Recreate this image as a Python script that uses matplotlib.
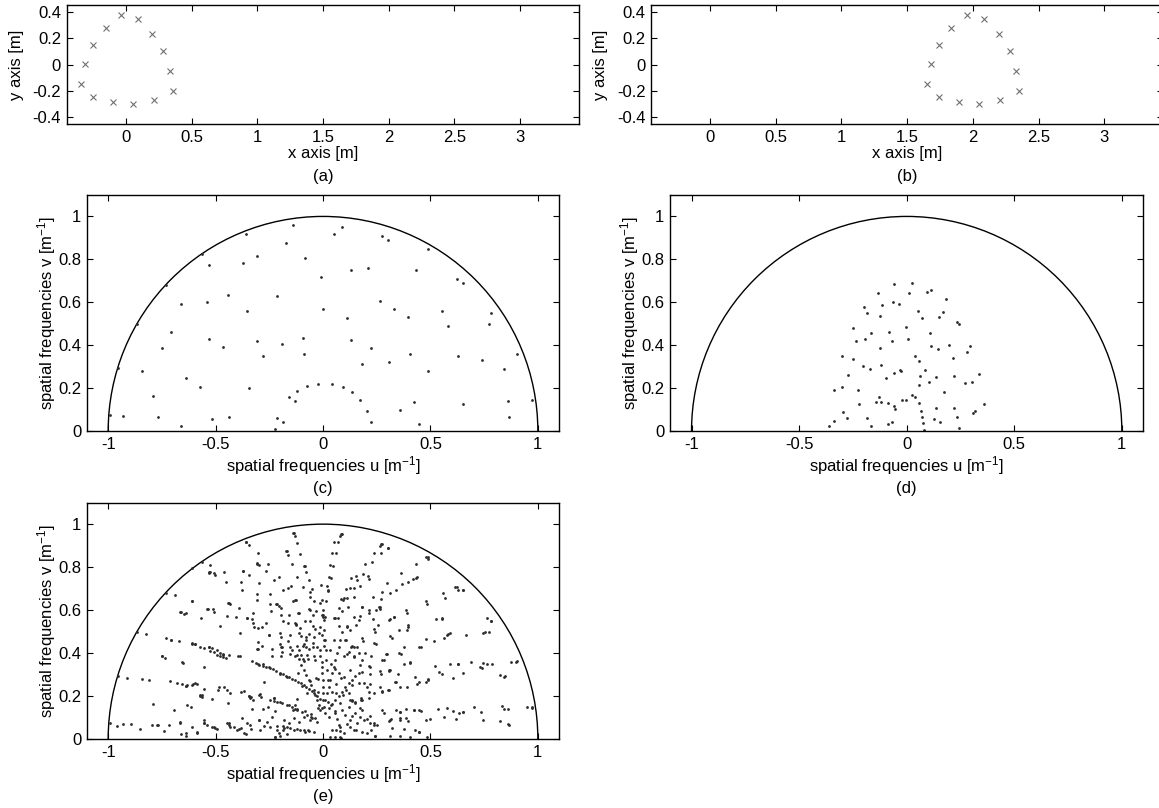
import numpy as np
import matplotlib
matplotlib.use("Agg")
import matplotlib.pyplot as plt
import matplotlib.patches as patches
from matplotlib.ticker import FormatStrFormatter

plt.rcParams['font.family'] = ['Liberation Sans', 'DejaVu Sans']
plt.rcParams['mathtext.default'] = 'regular'
plt.rcParams['font.size'] = 12

# antenna positions (panel a), metres
ant_a_x = [-0.038, 0.091, 0.203, 0.286, 0.339, 0.357, 0.213, 0.058, -0.096, -0.246, -0.342, -0.309, -0.246, -0.154]
ant_a_y = [0.375, 0.344, 0.233, 0.101, -0.046, -0.200, -0.266, -0.296, -0.286, -0.248, -0.150, 0.005, 0.147, 0.273]

# antenna positions (panel b), metres
ant_b_x = [1.956, 2.087, 2.196, 2.280, 2.331, 2.348, 2.204, 2.049, 1.895, 1.743, 1.652, 1.679, 1.743, 1.837]
ant_b_y = [0.375, 0.344, 0.233, 0.101, -0.046, -0.200, -0.266, -0.296, -0.286, -0.248, -0.150, 0.005, 0.147, 0.273]

# spatial frequency samples (u, v) for panel c
uv_c = [
    (-0.138, 0.960), (-0.357, 0.918), (-0.172, 0.876), (-0.561, 0.826), (-0.309, 0.816), (-0.085, 0.807),
    (-0.374, 0.782), (-0.529, 0.773), (-0.729, 0.680), (-0.442, 0.635), (-0.216, 0.627), (-0.662, 0.591),
    (-0.538, 0.603), (-0.352, 0.561), (-0.868, 0.499), (-0.709, 0.460), (-0.750, 0.386), (-0.530, 0.428),
    (-0.465, 0.392), (-0.305, 0.418), (-0.278, 0.348), (-0.191, 0.404), (-0.093, 0.432), (-0.090, 0.361),
    (-0.955, 0.292), (-0.842, 0.278), (-0.636, 0.246), (-0.791, 0.165), (-0.571, 0.207), (-0.346, 0.199),
    (-0.073, 0.212), (-0.022, 0.221), (-0.119, 0.188), (-0.158, 0.157), (-0.130, 0.140), (-0.992, 0.073),
    (-0.930, 0.072), (-0.769, 0.065), (-0.516, 0.056), (-0.439, 0.067), (-0.659, 0.023), (-0.216, 0.059),
    (-0.186, 0.044), (-0.223, 0.009),
    (0.088, 0.952), (0.050, 0.918), (0.274, 0.908), (0.304, 0.891), (0.491, 0.848), (0.132, 0.748),
    (0.209, 0.759), (0.434, 0.751), (-0.011, 0.717), (0.622, 0.708), (0.650, 0.692), (0.264, 0.607),
    (0.329, 0.568), (-0.002, 0.568), (0.110, 0.526), (0.395, 0.532), (0.555, 0.560), (0.780, 0.549),
    (0.771, 0.499), (0.581, 0.488), (0.130, 0.426), (0.225, 0.387), (0.180, 0.314), (0.305, 0.323),
    (0.403, 0.358), (0.626, 0.348), (0.741, 0.330), (0.901, 0.361), (0.491, 0.280), (0.843, 0.288),
    (0.040, 0.219), (0.091, 0.207), (0.135, 0.182), (0.172, 0.143), (0.205, 0.092), (0.222, 0.042),
    (0.360, 0.100), (0.425, 0.134), (0.447, 0.033), (0.651, 0.124), (0.862, 0.138), (0.864, 0.065),
    (0.975, 0.146),
]

# spatial frequency samples (u, v) for panel d
uv_d = [
    (-0.059, 0.684), (0.023, 0.690), (-0.132, 0.645), (0.012, 0.642), (0.095, 0.647), (0.113, 0.658),
    (-0.197, 0.577), (-0.186, 0.549), (-0.115, 0.588), (-0.062, 0.600), (-0.034, 0.594), (-0.124, 0.537),
    (0.053, 0.561), (0.073, 0.526), (0.152, 0.532), (-0.251, 0.482), (-0.194, 0.429), (-0.164, 0.457),
    (-0.081, 0.463), (-0.003, 0.485), (0.107, 0.459), (-0.237, 0.418), (-0.122, 0.389), (-0.066, 0.418),
    (0.005, 0.431), (0.112, 0.395), (0.144, 0.383), (-0.301, 0.351), (-0.250, 0.334), (0.039, 0.351),
    (0.057, 0.328), (-0.202, 0.302), (-0.169, 0.288), (-0.118, 0.306), (-0.274, 0.263), (-0.098, 0.247),
    (-0.060, 0.272), (-0.033, 0.284), (-0.025, 0.278), (0.085, 0.286), (0.136, 0.250), (0.059, 0.215),
    (0.105, 0.226), (-0.338, 0.193), (-0.299, 0.205), (-0.228, 0.193), (-0.130, 0.160), (-0.121, 0.137),
    (-0.085, 0.131), (-0.023, 0.143), (-0.003, 0.145), (0.025, 0.170), (0.039, 0.157), (0.056, 0.129),
    (-0.223, 0.128), (-0.057, 0.117), (-0.054, 0.101), (-0.141, 0.134), (0.135, 0.106), (-0.296, 0.089),
    (-0.276, 0.062), (-0.186, 0.062), (-0.167, 0.025), (-0.336, 0.048), (-0.360, 0.022), (-0.085, 0.031),
    (-0.070, 0.042), (0.065, 0.095), (0.073, 0.064), (0.078, 0.037), (0.082, 0.006), (0.127, 0.054),
    (0.181, 0.616), (0.169, 0.554), (0.236, 0.510), (0.242, 0.498), (0.195, 0.400), (0.214, 0.339),
    (0.293, 0.397), (0.282, 0.367), (0.219, 0.258), (0.175, 0.182), (0.336, 0.264), (0.304, 0.226),
    (0.273, 0.224), (0.219, 0.109), (0.236, 0.064), (0.242, 0.012), (0.358, 0.124), (0.316, 0.095),
    (0.307, 0.082), (0.155, 0.044), (0.062, 0.255),
]

# extra samples only seen in panel e (all positions combined)
uv_e_extra = [
    # left, upper
    (-0.136, 0.958), (-0.132, 0.946), (-0.122, 0.911), (-0.358, 0.919), (-0.343, 0.902), (-0.169, 0.873),
    (-0.161, 0.857), (-0.105, 0.862), (-0.302, 0.865), (-0.308, 0.818), (-0.298, 0.811), (-0.254, 0.815),
    (-0.144, 0.814), (-0.087, 0.806), (-0.081, 0.779), (-0.527, 0.811), (-0.527, 0.775), (-0.504, 0.762),
    (-0.460, 0.776), (-0.374, 0.783), (-0.346, 0.762), (-0.265, 0.783), (-0.205, 0.756), (-0.226, 0.738),
    (-0.121, 0.756), (-0.067, 0.742), (-0.450, 0.733), (-0.384, 0.731), (-0.299, 0.725), (-0.150, 0.713),
    (-0.091, 0.707), (-0.053, 0.697), (-0.377, 0.694), (-0.305, 0.677), (-0.248, 0.675), (-0.186, 0.694),
    (-0.164, 0.702), (-0.124, 0.648), (-0.062, 0.663), (-0.608, 0.644), (-0.305, 0.648), (-0.245, 0.626),
    (-0.217, 0.627), (-0.205, 0.621), (-0.140, 0.644), (-0.040, 0.643), (-0.016, 0.635), (-0.637, 0.585),
    (-0.536, 0.604), (-0.512, 0.604), (-0.507, 0.593), (-0.437, 0.635), (-0.431, 0.627), (-0.391, 0.609),
    (-0.447, 0.573), (-0.406, 0.570), (-0.352, 0.562), (-0.330, 0.559), (-0.567, 0.562), (-0.326, 0.585),
    (-0.240, 0.598), (-0.194, 0.612), (-0.157, 0.578), (-0.113, 0.585), (-0.065, 0.606), (-0.047, 0.576),
    (-0.006, 0.578), (-0.478, 0.526), (-0.324, 0.539), (-0.322, 0.523), (-0.302, 0.516), (-0.285, 0.523),
    (-0.265, 0.539), (-0.163, 0.539), (-0.132, 0.539), (-0.124, 0.531), (-0.105, 0.516), (-0.084, 0.547),
    (-0.059, 0.551), (-0.047, 0.526), (-0.036, 0.511), (-0.012, 0.523), (-0.386, 0.492), (-0.250, 0.484),
    (-0.198, 0.492), (-0.194, 0.477), (-0.155, 0.484), (-0.112, 0.492), (-0.102, 0.480), (-0.078, 0.477),
    (-0.065, 0.489), (-0.043, 0.477), (-0.019, 0.492), (-0.609, 0.443), (-0.594, 0.443), (-0.530, 0.430),
    (-0.516, 0.422), (-0.493, 0.415), (-0.481, 0.399), (-0.465, 0.396), (-0.439, 0.391), (-0.398, 0.387),
    (-0.388, 0.384), (-0.302, 0.453), (-0.284, 0.435), (-0.304, 0.419), (-0.198, 0.443), (-0.189, 0.427),
    (-0.152, 0.430), (-0.144, 0.415), (-0.121, 0.433), (-0.112, 0.415), (-0.087, 0.443), (-0.081, 0.430),
    (-0.048, 0.449), (-0.047, 0.430), (-0.028, 0.430), (-0.016, 0.415), (0.003, 0.461), (-0.237, 0.384),
    (-0.195, 0.384), (-0.152, 0.396), (-0.129, 0.384), (-0.101, 0.391), (-0.095, 0.374), (-0.074, 0.391),
    (-0.070, 0.371), (-0.043, 0.384), (-0.036, 0.368), (-0.012, 0.384), (-0.005, 0.360), (-0.651, 0.356),
    (-0.553, 0.334),
    # left, rays towards origin
    (-0.329, 0.362), (-0.313, 0.354), (-0.298, 0.346), (-0.281, 0.341), (-0.264, 0.337), (-0.248, 0.331),
    (-0.233, 0.326), (-0.217, 0.318), (-0.202, 0.309), (-0.186, 0.301), (-0.171, 0.293), (-0.157, 0.287),
    (-0.143, 0.281), (-0.129, 0.274), (-0.115, 0.267), (-0.102, 0.260), (-0.090, 0.253), (-0.078, 0.244),
    (-0.065, 0.234), (-0.052, 0.224), (-0.040, 0.213), (-0.028, 0.200), (-0.016, 0.185),
    (-0.245, 0.182), (-0.230, 0.178), (-0.214, 0.174), (-0.191, 0.166), (-0.167, 0.158), (-0.144, 0.148),
    (-0.121, 0.138), (-0.098, 0.126), (-0.074, 0.112), (-0.051, 0.096), (-0.028, 0.081),
    (-0.113, 0.371), (-0.102, 0.345), (-0.090, 0.321), (-0.078, 0.298), (-0.067, 0.275), (-0.054, 0.252),
    (-0.043, 0.228), (-0.036, 0.205), (-0.028, 0.182), (-0.020, 0.158), (-0.012, 0.135),
    (-0.005, 0.337), (-0.004, 0.306), (-0.002, 0.275), (0.000, 0.244), (0.000, 0.213), (0.001, 0.182),
    # left, lower
    (-0.636, 0.248), (-0.605, 0.256), (-0.597, 0.259), (-0.552, 0.231), (-0.564, 0.205), (-0.516, 0.185),
    (-0.482, 0.241), (-0.462, 0.241), (-0.434, 0.213), (-0.442, 0.169), (-0.384, 0.220), (-0.369, 0.225),
    (-0.346, 0.200), (-0.335, 0.194), (-0.326, 0.182), (-0.295, 0.210), (-0.287, 0.197), (-0.279, 0.138),
    (-0.257, 0.148), (-0.229, 0.189), (-0.198, 0.174), (-0.329, 0.138), (-0.664, 0.081), (-0.640, 0.026),
    (-0.586, 0.034), (-0.555, 0.076), (-0.540, 0.065), (-0.501, 0.053), (-0.447, 0.073), (-0.431, 0.057),
    (-0.400, 0.042), (-0.384, 0.053), (-0.377, 0.096), (-0.353, 0.076), (-0.338, 0.065), (-0.299, 0.089),
    (-0.291, 0.042), (-0.260, 0.081), (-0.248, 0.057), (-0.237, 0.104), (-0.214, 0.042), (-0.206, 0.026),
    (-0.198, 0.014), (-0.183, 0.050), (-0.167, 0.057), (-0.152, 0.053), (-0.136, 0.042), (-0.121, 0.045),
    (-0.105, 0.042), (-0.087, 0.042), (-0.067, 0.039), (-0.043, 0.034), (-0.183, 0.089), (-0.160, 0.076),
    (-0.136, 0.096), (-0.113, 0.081), (-0.087, 0.104), (-0.059, 0.089), (-0.036, 0.096), (-0.222, 0.011),
    # far left
    (-0.529, 0.775), (-0.509, 0.772), (-0.609, 0.795), (-0.691, 0.669), (-0.664, 0.593), (-0.645, 0.584),
    (-0.608, 0.644), (-0.823, 0.491), (-0.730, 0.469), (-0.709, 0.461), (-0.671, 0.457), (-0.609, 0.446),
    (-0.594, 0.444), (-0.750, 0.387), (-0.736, 0.379), (-0.656, 0.357), (-0.571, 0.427), (-0.555, 0.422),
    (-0.527, 0.411), (-0.509, 0.404), (-0.493, 0.393), (-0.478, 0.384), (-0.465, 0.381), (-0.450, 0.376),
    (-0.912, 0.283), (-0.808, 0.275), (-0.710, 0.272), (-0.679, 0.259), (-0.656, 0.256), (-0.633, 0.252),
    (-0.609, 0.253), (-0.586, 0.256), (-0.695, 0.135), (-0.633, 0.158), (-0.614, 0.148), (-0.571, 0.200),
    (-0.563, 0.194), (-0.490, 0.228), (-0.447, 0.228), (-0.552, 0.089), (-0.555, 0.073), (-0.958, 0.062),
    (-0.896, 0.068), (-0.853, 0.047), (-0.798, 0.065), (-0.772, 0.065), (-0.741, 0.039), (-0.718, 0.065),
    (-0.664, 0.076), (-0.640, 0.014), (-0.609, 0.057), (-0.586, 0.026), (-0.509, 0.057), (-0.493, 0.045),
    (-0.439, 0.073), (-0.416, 0.057), (-0.392, 0.045), (-0.369, 0.026),
    # right, upper
    (0.085, 0.953), (0.078, 0.943), (0.070, 0.915), (0.042, 0.868), (0.060, 0.868), (0.271, 0.908),
    (0.264, 0.896), (0.302, 0.891), (0.236, 0.865), (0.271, 0.865), (0.034, 0.811), (0.045, 0.807),
    (0.194, 0.815), (0.229, 0.823), (0.026, 0.753), (0.037, 0.748), (0.152, 0.759), (0.186, 0.767),
    (0.212, 0.744), (0.158, 0.741), (0.433, 0.815), (0.481, 0.846), (0.490, 0.840), (0.364, 0.772),
    (0.437, 0.753), (0.418, 0.744), (0.394, 0.731), (0.369, 0.722), (0.298, 0.725), (0.019, 0.713),
    (0.022, 0.694), (0.109, 0.697), (0.124, 0.702), (0.143, 0.702), (0.174, 0.710), (0.341, 0.694),
    (0.312, 0.679), (0.276, 0.685), (0.271, 0.651), (0.233, 0.663), (0.085, 0.652), (0.096, 0.658),
    (0.143, 0.663), (0.614, 0.707), (0.628, 0.694), (0.651, 0.694), (0.557, 0.679), (0.567, 0.658),
    (0.478, 0.644), (0.484, 0.626), (0.388, 0.601), (0.391, 0.585), (0.074, 0.609), (0.090, 0.596),
    (0.181, 0.613), (0.212, 0.601), (0.259, 0.613), (0.248, 0.601), (0.267, 0.616), (0.115, 0.616),
    (0.000, 0.578), (0.011, 0.570), (0.057, 0.562), (0.068, 0.562), (0.143, 0.567), (0.174, 0.573),
    (0.214, 0.585), (0.233, 0.557), (0.305, 0.554), (0.310, 0.559), (0.329, 0.567), (0.257, 0.531),
    (0.352, 0.505), (0.394, 0.523), (0.391, 0.505), (0.525, 0.557), (0.555, 0.562), (0.589, 0.495),
    (0.577, 0.484), (0.564, 0.471), (0.515, 0.458), (0.481, 0.464), (0.446, 0.430), (0.457, 0.430),
    (0.375, 0.430), (0.313, 0.481), (0.321, 0.472), (0.236, 0.449), (0.248, 0.443), (0.181, 0.469),
    (0.186, 0.458), (0.135, 0.433), (0.146, 0.430),
    # right, middle
    (0.298, 0.396), (0.355, 0.399), (0.363, 0.396), (0.276, 0.368), (0.403, 0.356), (0.375, 0.349),
    (0.522, 0.342), (0.592, 0.349), (0.628, 0.349), (0.541, 0.311), (0.553, 0.303), (0.605, 0.283),
    (0.651, 0.306), (0.445, 0.267), (0.437, 0.256), (0.429, 0.290), (0.481, 0.267), (0.488, 0.275),
    (0.349, 0.301), (0.313, 0.321), (0.305, 0.318), (0.267, 0.318), (0.270, 0.303), (0.217, 0.337),
    (0.217, 0.303), (0.338, 0.267), (0.357, 0.244), (0.391, 0.244), (0.267, 0.244), (0.274, 0.220),
    (0.305, 0.228), (0.205, 0.244), (0.212, 0.220), (0.236, 0.213), (0.166, 0.262), (0.177, 0.189),
    (0.135, 0.179), (0.150, 0.174), (0.124, 0.182),
    # right, lower
    (0.274, 0.135), (0.282, 0.120), (0.341, 0.135), (0.360, 0.127), (0.388, 0.138), (0.422, 0.135),
    (0.445, 0.135), (0.457, 0.132), (0.533, 0.138), (0.577, 0.143), (0.605, 0.132), (0.631, 0.120),
    (0.651, 0.127), (0.620, 0.092), (0.564, 0.101), (0.499, 0.092), (0.478, 0.089), (0.394, 0.085),
    (0.357, 0.089), (0.388, 0.096), (0.313, 0.089), (0.319, 0.051), (0.375, 0.048), (0.429, 0.042),
    (0.448, 0.033), (0.236, 0.076), (0.251, 0.065), (0.220, 0.073), (0.189, 0.089), (0.158, 0.076),
    (0.171, 0.104), (0.127, 0.089), (0.112, 0.070), (0.081, 0.057), (0.062, 0.042), (0.042, 0.042),
    (0.143, 0.042), (0.181, 0.034), (0.205, 0.026), (0.096, 0.026), (0.081, 0.008), (0.057, 0.008),
    (0.034, 0.008), (0.243, 0.014), (0.313, 0.014), (0.360, 0.014), (0.406, 0.011), (0.484, 0.011),
    # right, rays towards origin
    (0.011, 0.120), (0.026, 0.143), (0.042, 0.163), (0.057, 0.182), (0.073, 0.200), (0.088, 0.220),
    (0.104, 0.241), (0.119, 0.259), (0.135, 0.275), (0.150, 0.293), (0.166, 0.309),
    (0.003, 0.151), (0.011, 0.182), (0.019, 0.213), (0.026, 0.244), (0.034, 0.275), (0.042, 0.306),
    (0.050, 0.337), (0.057, 0.368), (0.065, 0.399), (0.073, 0.430), (0.081, 0.461),
    (0.026, 0.104), (0.057, 0.120), (0.088, 0.135), (0.119, 0.151), (0.150, 0.166), (0.181, 0.182),
    (0.212, 0.189),
    (-0.005, 0.648), (0.000, 0.601), (0.003, 0.554), (0.006, 0.508), (0.009, 0.461), (0.012, 0.415),
    (0.016, 0.368), (0.019, 0.321), (0.022, 0.275),
    (0.050, 0.461), (0.088, 0.500), (0.112, 0.523), (0.127, 0.508), (0.104, 0.461), (0.158, 0.430),
    (0.119, 0.407), (0.096, 0.384), (0.143, 0.384), (0.166, 0.399), (0.174, 0.345), (0.127, 0.321),
    (0.096, 0.290), (0.181, 0.368), (0.034, 0.415), (0.073, 0.306), (0.189, 0.262), (0.119, 0.213),
    (0.081, 0.166), (0.150, 0.120), (0.181, 0.135), (0.104, 0.112),
    # far right
    (0.763, 0.561), (0.780, 0.550), (0.744, 0.495), (0.752, 0.500), (0.665, 0.484), (0.688, 0.357),
    (0.746, 0.356), (0.763, 0.349), (0.876, 0.360), (0.899, 0.360), (0.786, 0.349), (0.732, 0.337),
    (0.825, 0.298), (0.845, 0.294), (0.949, 0.151), (0.972, 0.151), (0.834, 0.155), (0.843, 0.138),
    (0.735, 0.127), (0.744, 0.089), (0.825, 0.084), (0.862, 0.068), (0.701, 0.151),
]

dot_color = '#2b2b2b'


def style_axes(ax):
    ax.tick_params(direction='in', top=True, right=True, length=4, width=0.8, pad=4)
    for s in ax.spines.values():
        s.set_linewidth(1.0)


fig = plt.figure(figsize=(11.59, 8.08), dpi=100)

# panel a / b: antenna layout
for pos, xs, ys, tag in [([0.0575, 0.8465, 0.4423, 0.1473], ant_a_x, ant_a_y, '(a)'),
                         ([0.5617, 0.8465, 0.4420, 0.1473], ant_b_x, ant_b_y, '(b)')]:
    ax = fig.add_axes(pos)
    ax.plot(xs, ys, 'x', color='#707070', ms=4, mew=0.8)
    ax.set_xlim(-0.45, 3.45)
    ax.set_ylim(-0.45, 0.45)
    ax.set_xticks([0, 0.5, 1, 1.5, 2, 2.5, 3])
    ax.set_yticks([-0.4, -0.2, 0, 0.2, 0.4])
    ax.xaxis.set_major_formatter(FormatStrFormatter('%g'))
    ax.yaxis.set_major_formatter(FormatStrFormatter('%g'))
    ax.set_xlabel('x axis [m]', labelpad=1)
    ax.set_ylabel('y axis [m]', labelpad=6)
    ax.text(0.5, -0.44, tag, transform=ax.transAxes, ha='center', va='center')
    style_axes(ax)

# panels c, d, e: spatial frequency coverage
uv_e = uv_c + uv_d + uv_e_extra
for pos, pts, tag in [([0.0748, 0.4666, 0.4078, 0.2921], uv_c, '(c)'),
                      ([0.5781, 0.4666, 0.4084, 0.2921], uv_d, '(d)'),
                      ([0.0748, 0.0854, 0.4078, 0.2925], uv_e, '(e)')]:
    ax = fig.add_axes(pos)
    arr = np.array(pts)
    ax.plot(arr[:, 0], arr[:, 1], 'o', color=dot_color, ms=2.0, mew=0)
    ax.add_patch(patches.Arc((0, 0), 2, 2, theta1=0, theta2=180, color='black', lw=1.0))
    ax.set_xlim(-1.1, 1.1)
    ax.set_ylim(0, 1.1)
    ax.set_xticks([-1, -0.5, 0, 0.5, 1])
    ax.set_yticks([0, 0.2, 0.4, 0.6, 0.8, 1])
    ax.xaxis.set_major_formatter(FormatStrFormatter('%g'))
    ax.yaxis.set_major_formatter(FormatStrFormatter('%g'))
    ax.set_xlabel('spatial frequencies u [m$^{-1}$]', labelpad=2)
    ax.set_ylabel('spatial frequencies v [m$^{-1}$]', labelpad=0)
    ax.text(0.5, -0.245, tag, transform=ax.transAxes, ha='center', va='center')
    style_axes(ax)

fig.savefig('out.png', dpi=100)
